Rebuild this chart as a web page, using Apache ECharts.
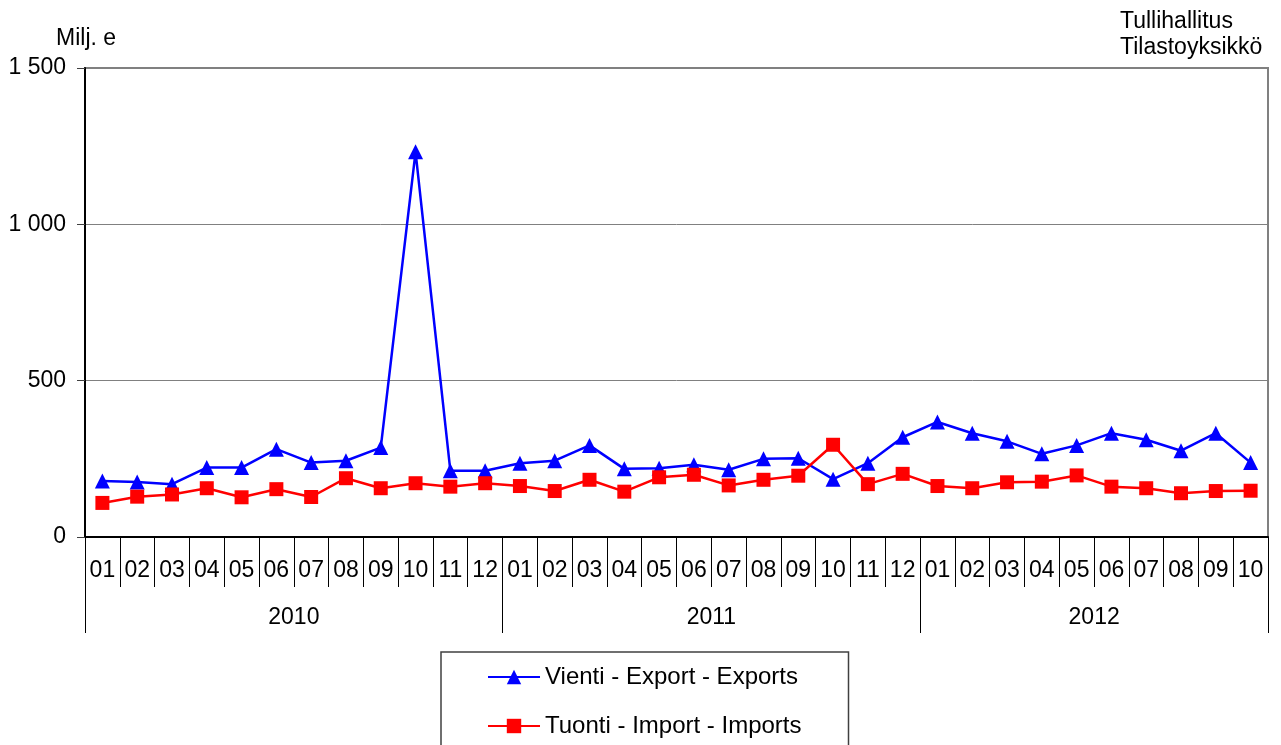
<!DOCTYPE html>
<html><head><meta charset="utf-8">
<script src="https://cdn.jsdelivr.net/npm/echarts@6/dist/echarts.min.js"></script>
<style>html,body{margin:0;padding:0;background:#fff}#c{width:1281px;height:745px}</style>
</head><body><div id="c"></div>
<script>
const years = ['2010', '2011', '2012'];
const monthsPerYear = [12, 12, 10];
const months = ['01','02','03','04','05','06','07','08','09','10','11','12',
                '01','02','03','04','05','06','07','08','09','10','11','12',
                '01','02','03','04','05','06','07','08','09','10'];
const exportsData = [179,176,169,222,222,281,238,244,286,1232,212,212,
                     236,244,293,218,220,231,215,250,252,185,236,319,
                     368,332,306,266,293,332,311,276,332,238];
const importsData = [109,129,136,156,127,153,128,188,156,172,161,172,
                     163,147,183,145,191,199,165,183,196,295,169,202,
                     163,156,175,177,197,161,156,140,147,148];
const yTicks = [0, 500, 1000, 1500];
const seriesNames = ['Vienti - Export - Exports', 'Tuonti - Import - Imports'];

// derived helpers for year grouping
const yearStarts = [];
const yearLabelIdx = [];
const yearOfIndex = [];
let acc = 0;
monthsPerYear.forEach((n, k) => {
  yearStarts.push(acc);
  yearLabelIdx.push(acc + Math.floor((n - 1) / 2));
  for (let i = 0; i < n; i++) yearOfIndex.push(years[k]);
  acc += n;
});

const FONT = 'Liberation Sans, Arial, sans-serif';
const chart = echarts.init(document.getElementById('c'), null, {renderer: 'canvas'});
chart.setOption({
  animation: false,
  backgroundColor: '#fff',
  textStyle: {fontFamily: FONT, color: '#000'},
  grid: {left: 85, right: 13, top: 68, bottom: 208, containLabel: false, outerBoundsMode: 'none',
         show: true, borderColor: '#808080', borderWidth: 2},
  xAxis: [
    {
      type: 'category', data: months, position: 'bottom', boundaryGap: true,
      axisLine: {show: true, lineStyle: {color: '#000', width: 2}},
      axisTick: {show: true, interval: 0, length: 50, lineStyle: {color: '#000', width: 1}},
      axisLabel: {interval: 0, fontSize: 23, margin: 22, color: '#000', fontFamily: FONT},
      splitLine: {show: false}
    },
    {
      type: 'category', data: yearOfIndex, position: 'bottom', boundaryGap: true,
      axisLine: {show: false},
      axisTick: {show: true, length: 96, lineStyle: {color: '#000', width: 1},
                 interval: (i) => yearStarts.indexOf(i) >= 0},
      axisLabel: {fontSize: 23, margin: 69, color: '#000', fontFamily: FONT,
                  padding: [0, 0, 0, 35],
                  interval: (i) => yearLabelIdx.indexOf(i) >= 0},
      splitLine: {show: false}
    }
  ],
  yAxis: {
    type: 'value', min: yTicks[0], max: yTicks[yTicks.length - 1], interval: 500,
    axisLine: {show: true, lineStyle: {color: '#000', width: 2}},
    axisTick: {show: true, inside: false, length: 8, lineStyle: {color: '#404040', width: 1}},
    axisLabel: {fontSize: 23, margin: 19, color: '#000', fontFamily: FONT,
                formatter: v => String(v).replace(/\B(?=(\d{3})+(?!\d))/g, ' ')},
    splitLine: {show: true, lineStyle: {color: '#808080', width: 1}}
  },
  legend: {
    orient: 'vertical', left: 441, top: 652, height: 140,
    itemWidth: 52, itemHeight: 18, itemGap: 25,
    padding: [13, 47, 40, 46],
    borderColor: '#404040', borderWidth: 1.5,
    textStyle: {fontSize: 24, lineHeight: 22, color: '#000', fontFamily: FONT},
    data: seriesNames
  },
  graphic: [
    {type: 'text', left: 56, top: 27, style: {text: 'Milj. e', font: '23px ' + FONT, fill: '#000'}},
    {type: 'text', left: 1120, top: 10, style: {text: 'Tullihallitus', font: '23px ' + FONT, fill: '#000'}},
    {type: 'text', left: 1120, top: 36, style: {text: 'Tilastoyksikkö', font: '23px ' + FONT, fill: '#000'}}
  ],
  series: [
    {
      name: seriesNames[0], type: 'line', data: exportsData, xAxisIndex: 0,
      symbol: 'triangle', symbolSize: 15, showAllSymbol: true,
      lineStyle: {color: '#0000FF', width: 2.5},
      itemStyle: {color: '#0000FF'},
      emphasis: {disabled: true}
    },
    {
      name: seriesNames[1], type: 'line', data: importsData, xAxisIndex: 0,
      symbol: 'rect', symbolSize: 14, showAllSymbol: true,
      lineStyle: {color: '#FF0000', width: 2.5},
      itemStyle: {color: '#FF0000'},
      emphasis: {disabled: true}
    }
  ]
});
</script>
</body></html>
